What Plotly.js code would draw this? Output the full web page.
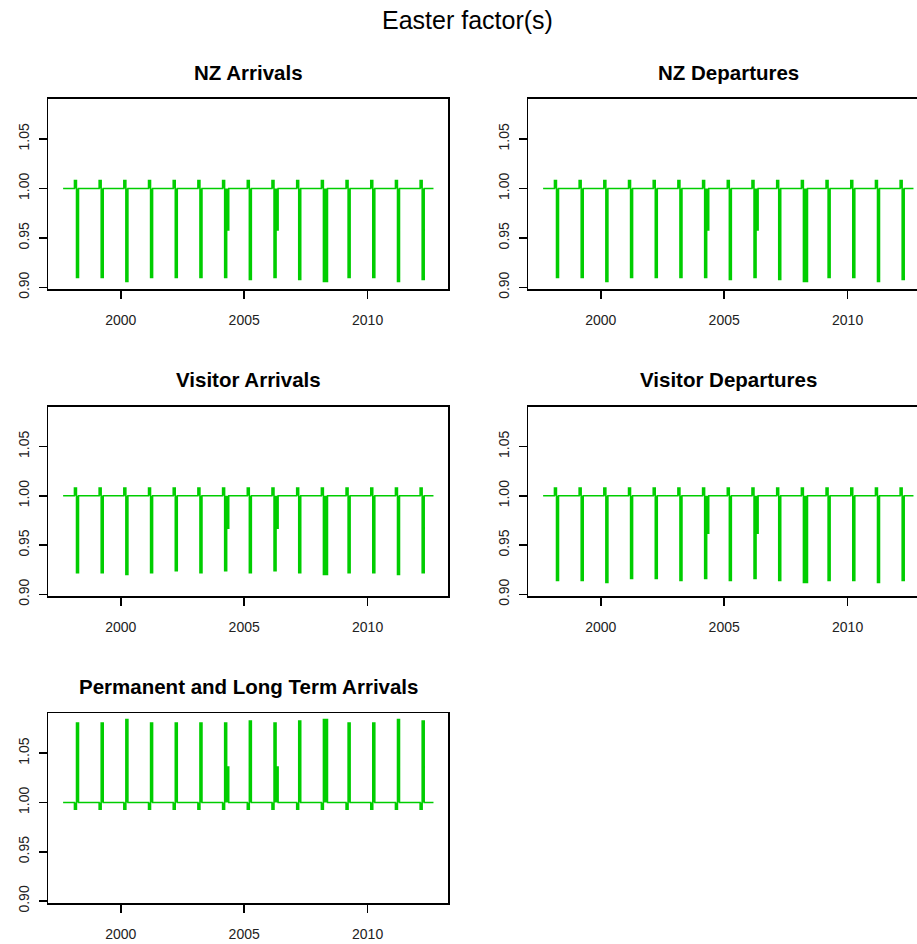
<!DOCTYPE html>
<html>
<head>
<meta charset="utf-8">
<script src="https://cdn.plot.ly/plotly-3.0.1.min.js"></script>
<style>
  html, body { margin: 0; padding: 0; overflow: hidden; background: #fff; }
  #chart { width: 960px; height: 944px; }
</style>
</head>
<body>
<div id="chart"></div>
<script>
// ---- Data ----
// Monthly series: Sep 1997 .. Sep 2012; Easter factors are 1.00 outside the Easter months
const seriesStart = { year: 1997, month: 9 };
const seriesEnd = { year: 2012, month: 9 };
const baseline = 1.00;
const easterYears = [1998, 1999, 2000, 2001, 2002, 2003, 2004, 2005, 2006, 2007, 2008, 2009, 2010, 2011, 2012];

const panelTitles = ["NZ Arrivals", "NZ Departures", "Visitor Arrivals", "Visitor Departures", "Permanent and Long Term Arrivals"];

// March, April and May factors per Easter year for each series
const nzArrMar = [1.008, 1.008, 1.008, 1.008, 1.008, 1.008, 1.008, 1.008, 1.008, 1.008, 1.008, 1.008, 1.008, 1.008, 1.008];
const nzArrApr = [0.910, 0.910, 0.906, 0.910, 0.910, 0.910, 0.910, 0.908, 0.910, 0.908, 0.906, 0.910, 0.910, 0.906, 0.908];
const nzArrMay = [1.000, 1.000, 1.000, 1.000, 1.000, 1.000, 0.958, 1.000, 0.958, 1.000, 0.906, 1.000, 1.000, 1.000, 1.000];

const nzDepMar = [1.008, 1.008, 1.008, 1.008, 1.008, 1.008, 1.008, 1.008, 1.008, 1.008, 1.008, 1.008, 1.008, 1.008, 1.008];
const nzDepApr = [0.910, 0.910, 0.906, 0.910, 0.910, 0.910, 0.910, 0.908, 0.910, 0.908, 0.906, 0.910, 0.910, 0.906, 0.908];
const nzDepMay = [1.000, 1.000, 1.000, 1.000, 1.000, 1.000, 0.958, 1.000, 0.958, 1.000, 0.906, 1.000, 1.000, 1.000, 1.000];

const visArrMar = [1.008, 1.008, 1.008, 1.008, 1.008, 1.008, 1.008, 1.008, 1.008, 1.008, 1.008, 1.008, 1.008, 1.008, 1.008];
const visArrApr = [0.922, 0.922, 0.920, 0.922, 0.924, 0.922, 0.924, 0.922, 0.924, 0.922, 0.920, 0.922, 0.922, 0.920, 0.922];
const visArrMay = [1.000, 1.000, 1.000, 1.000, 1.000, 1.000, 0.967, 1.000, 0.967, 1.000, 0.920, 1.000, 1.000, 1.000, 1.000];

const visDepMar = [1.008, 1.008, 1.008, 1.008, 1.008, 1.008, 1.008, 1.008, 1.008, 1.008, 1.008, 1.008, 1.008, 1.008, 1.008];
const visDepApr = [0.914, 0.914, 0.912, 0.916, 0.916, 0.914, 0.916, 0.914, 0.916, 0.914, 0.912, 0.914, 0.914, 0.912, 0.914];
const visDepMay = [1.000, 1.000, 1.000, 1.000, 1.000, 1.000, 0.962, 1.000, 0.962, 1.000, 0.912, 1.000, 1.000, 1.000, 1.000];

const pltArrMar = [0.993, 0.993, 0.993, 0.993, 0.993, 0.993, 0.993, 0.993, 0.993, 0.993, 0.993, 0.993, 0.993, 0.993, 0.993];
const pltArrApr = [1.0805, 1.0805, 1.084, 1.0805, 1.0805, 1.0805, 1.0805, 1.0825, 1.0805, 1.0825, 1.084, 1.0805, 1.0805, 1.084, 1.0825];
const pltArrMay = [1.000, 1.000, 1.000, 1.000, 1.000, 1.000, 1.036, 1.000, 1.036, 1.000, 1.084, 1.000, 1.000, 1.000, 1.000];

const xTickVals = [2000, 2005, 2010];
const xTickText = ["2000", "2005", "2010"];
const yTickVals = [0.90, 0.95, 1.00, 1.05];
const yTickText = ["0.90", "0.95", "1.00", "1.05"];

// ---- Build monthly series ----
function buildSeries(mar, apr, may) {
  const x = [], y = [];
  let yr = seriesStart.year, mo = seriesStart.month;
  while (yr < seriesEnd.year || (yr === seriesEnd.year && mo <= seriesEnd.month)) {
    let v = baseline;
    const k = easterYears.indexOf(yr);
    if (k >= 0) {
      if (mo === 3) v = mar[k];
      else if (mo === 4) v = apr[k];
      else if (mo === 5) v = may[k];
    }
    x.push(yr + (mo - 1) / 12);
    y.push(v);
    mo++;
    if (mo > 12) { mo = 1; yr++; }
  }
  return { x, y };
}

const seriesList = [
  buildSeries(nzArrMar, nzArrApr, nzArrMay),
  buildSeries(nzDepMar, nzDepApr, nzDepMay),
  buildSeries(visArrMar, visArrApr, visArrMay),
  buildSeries(visDepMar, visDepApr, visDepMay),
  buildSeries(pltArrMar, pltArrApr, pltArrMay)
];

// ---- Layout geometry (pixels -> paper) ----
const W = 960, H = 944;
const colPx = [[48.3, 448.3], [528.3, 928.3]];
const rowPx = [[99, 289.3], [406.7, 596.3], [713.3, 903]];
const xRange = [1997.067, 2013.267];
const yRange = [0.898, 1.0904];
const lineColor = "#00CD00";
const fontFam = "Liberation Sans, Arial, sans-serif";

const data = [];
const layout = {
  width: W, height: H,
  margin: { l: 0, r: 0, t: 0, b: 0 },
  paper_bgcolor: "#ffffff",
  plot_bgcolor: "#ffffff",
  showlegend: false,
  font: { family: fontFam, color: "#000000" },
  annotations: [{
    text: "Easter factor(s)", xref: "paper", yref: "paper",
    x: 467.6 / W, y: 1 - 20 / H, xanchor: "center", yanchor: "middle",
    showarrow: false, font: { size: 25, color: "#000000", family: fontFam }
  }]
};

seriesList.forEach((s, i) => {
  const r = Math.floor(i / 2), c = i % 2;
  const ax = i === 0 ? "" : String(i + 1);
  data.push({
    type: "scatter", mode: "lines", x: s.x, y: s.y,
    xaxis: "x" + ax, yaxis: "y" + ax,
    line: { color: lineColor, width: 1.5, shape: "hvh" },
    fill: "toself", fillcolor: lineColor,
    hoverinfo: "skip"
  });
  const xd = [colPx[c][0] / W, colPx[c][1] / W];
  const yd = [1 - rowPx[r][1] / H, 1 - rowPx[r][0] / H];
  layout["xaxis" + ax] = {
    domain: xd, range: xRange, anchor: "y" + ax,
    tickmode: "array", tickvals: xTickVals, ticktext: xTickText,
    ticks: "outside", ticklen: 8, tickwidth: 1.6, tickcolor: "#000",
    showline: true, mirror: true, linecolor: "#000", linewidth: 1.8,
    showgrid: false, zeroline: false, ticklabelstandoff: 9,
    tickfont: { size: 14, color: "#222", family: fontFam }
  };
  layout["yaxis" + ax] = {
    domain: yd, range: yRange, anchor: "x" + ax,
    tickmode: "array", tickvals: yTickVals, ticktext: yTickText,
    ticks: "outside", ticklen: 8, tickwidth: 1.6, tickcolor: "#000",
    showline: true, mirror: true, linecolor: "#000", linewidth: 1.8,
    showgrid: false, zeroline: false, tickangle: -90, ticklabelstandoff: 4,
    tickfont: { size: 14, color: "#222", family: fontFam }
  };
  layout.annotations.push({
    text: "<b>" + panelTitles[i] + "</b>", xref: "paper", yref: "paper",
    x: (xd[0] + xd[1]) / 2, y: 1 - (rowPx[r][0] - 27) / H,
    xanchor: "center", yanchor: "middle", showarrow: false,
    font: { size: 20.5, color: "#000", family: fontFam }
  });
});

Plotly.newPlot("chart", data, layout, { staticPlot: true, displayModeBar: false });
</script>
</body>
</html>
